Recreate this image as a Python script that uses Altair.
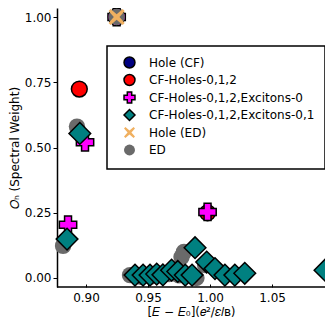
import altair as alt
import pandas as pd

# ---------------- data ----------------
series_names = [
    "Hole (CF)",
    "CF-Holes-0,1,2",
    "CF-Holes-0,1,2,Excitons-0",
    "CF-Holes-0,1,2,Excitons-0,1",
    "Hole (ED)",
    "ED",
]

hole_cf_x = [0.9247]
hole_cf_y = [1.0]

cf_holes_x = [0.9247, 0.8946, 0.998]
cf_holes_y = [1.0, 0.724, 0.25]

exc0_x = [0.9247, 0.8992, 0.8855, 0.998]
exc0_y = [1.0, 0.52, 0.204, 0.253]

exc01_x = [0.895, 0.8847,
           0.9395, 0.946, 0.9516, 0.957, 0.962, 0.969, 0.974, 0.980, 0.9855,
           0.9879, 0.9973, 1.004, 1.012, 1.020, 1.028, 1.0927]
exc01_y = [0.554, 0.149,
           0.011, 0.011, 0.011, 0.015, 0.012, 0.03, 0.025, 0.011, 0.011,
           0.116, 0.061, 0.036, 0.011, 0.011, 0.018, 0.03]

hole_ed_x = [0.9247]
hole_ed_y = [1.0]

ed_x = [0.9247, 0.8927, 0.8815, 0.979, 0.977, 0.996, 0.989,
        0.9355, 0.944, 0.952, 0.960, 0.967, 0.975]
ed_y = [1.0, 0.58, 0.123, 0.10, 0.08, 0.05, 0.0,
        0.011, 0.005, 0.005, 0.01, 0.015, 0.01]

x_ticks = [0.90, 0.95, 1.00, 1.05]
y_ticks = [0.0, 0.25, 0.50, 0.75, 1.00]

# ---------------- styling ----------------
fill_colors = ["#000080", "#ff0000", "#ff00ff", "#008080", "#f0b060", "#6a6a6a"]
stroke_colors = ["black", "black", "black", "black", "transparent", "transparent"]
opacities = [1.0, 1.0, 1.0, 1.0, 0.4, 0.55]
x_shape = "M-0.75,-1L0,-0.35L0.75,-1L1,-0.75L0.35,0L1,0.75L0.75,1L0,0.35L-0.75,1L-1,0.75L-0.35,0L-1,-0.75Z"
shapes = ["circle", "circle", "cross", "diamond", x_shape, "circle"]
sizes = {series_names[0]: 270, series_names[1]: 250, series_names[2]: 300,
         series_names[3]: 470, series_names[4]: 260, series_names[5]: 270}
draw_order = [series_names[0], series_names[1], series_names[2],
              series_names[5], series_names[4], series_names[3]]

W, H = 268, 279

frames = []
for name, xs, ys in [
    (series_names[0], hole_cf_x, hole_cf_y),
    (series_names[1], cf_holes_x, cf_holes_y),
    (series_names[2], exc0_x, exc0_y),
    (series_names[3], exc01_x, exc01_y),
    (series_names[4], hole_ed_x, hole_ed_y),
    (series_names[5], ed_x, ed_y),
]:
    frames.append(pd.DataFrame({"x": xs, "y": ys, "series": name}))
df = pd.concat(frames, ignore_index=True)

xscale = alt.Scale(domain=[0.8766, 1.0927], nice=False, zero=False)
yscale = alt.Scale(domain=[-0.0345, 1.0345], nice=False, zero=False)

x_enc = alt.X("x:Q", scale=xscale,
              axis=alt.Axis(values=x_ticks, format=".2f", domain=False, offset=-3,
                            tickSize=3, tickColor="black", labelPadding=5,
                            title="[𝐸 − 𝐸₀](𝑒²/𝜀𝑙ʙ)", titlePadding=3,
                            titleFontSize=12, titleFontWeight="normal",
                            labelFontSize=12, grid=False))
y_enc = alt.Y("y:Q", scale=yscale,
              axis=alt.Axis(values=y_ticks, format=".2f", domain=True, domainColor="black",
                            domainWidth=1.5, tickSize=4, tickColor="black", labelPadding=2,
                            title="𝑂ₕ (Spectral Weight)", titlePadding=3,
                            titleFontSize=12, titleFontWeight="normal",
                            labelFontSize=12, grid=False))

legend = alt.Legend(title=None, orient="none", legendX=50, legendY=38, padding=10,
                    strokeColor="black", fillColor="white", symbolSize=120,
                    symbolStrokeWidth=1.5, labelFontSize=12, labelOffset=13,
                    labelLimit=400, symbolOffset=6, rowPadding=0.5)

color_enc = alt.Color("series:N", scale=alt.Scale(domain=series_names, range=fill_colors),
                      legend=legend, title=None)
shape_enc = alt.Shape("series:N", scale=alt.Scale(domain=series_names, range=shapes), title=None)
stroke_enc = alt.Stroke("series:N", scale=alt.Scale(domain=series_names, range=stroke_colors), title=None)
opac_enc = alt.Opacity("series:N", scale=alt.Scale(domain=series_names, range=opacities), title=None)

base = alt.Chart(df)
layers = []
for name in draw_order:
    layers.append(
        base.transform_filter(alt.datum.series == name)
        .mark_point(filled=True, size=sizes[name], strokeWidth=1.5)
        .encode(x=x_enc, y=y_enc, color=color_enc, shape=shape_enc,
                stroke=stroke_enc, opacity=opac_enc)
    )

spine = alt.Chart(alt.Data(values=[{"a": 1}])).mark_rule(color="black", strokeWidth=1.5).encode(
    x=alt.value(0), x2=alt.value(W), y=alt.value(H)
)

chart = alt.layer(*layers, spine).properties(
    width=W, height=H,
    autosize=alt.AutoSizeParams(type="none"),
    padding={"left": 49, "top": 0, "right": 0, "bottom": 38},
).configure(font="DejaVu Sans").configure_view(stroke=None).configure_legend(strokeWidth=1.5)

chart.save("out.html", embed_options={"renderer": "svg", "actions": False})
